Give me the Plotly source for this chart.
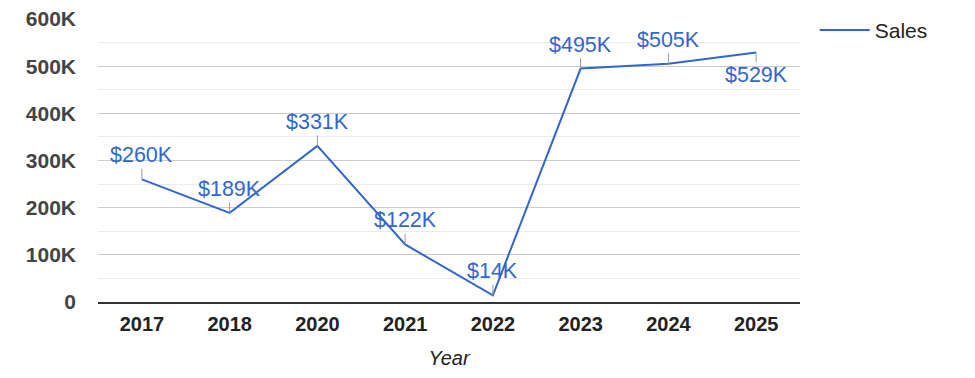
import plotly.graph_objects as go

years = ["2017", "2018", "2020", "2021", "2022", "2023", "2024", "2025"]
sales = [260000, 189000, 331000, 122000, 14000, 495000, 505000, 529000]
labels = ["$260K", "$189K", "$331K", "$122K", "$14K", "$495K", "$505K", "$529K"]
label_below = [False, False, False, False, False, False, False, True]

y_ticks = [0, 100000, 200000, 300000, 400000, 500000, 600000]
y_tick_text = ["0", "100K", "200K", "300K", "400K", "500K", "600K"]

FONT = "Arial, Liberation Sans, sans-serif"
BLUE = "#3366CC"

fig = go.Figure()
fig.add_trace(go.Scatter(x=years, y=sales, mode="lines", name="Sales",
                         line=dict(color=BLUE, width=2)))

for i, (y, t, below) in enumerate(zip(sales, labels, label_below)):
    fig.add_annotation(x=i, y=y, xref="x", yref="y", text=t, showarrow=True,
                       arrowhead=0, arrowwidth=1, arrowcolor="#999999",
                       ax=0, ay=(23 if below else -24),
                       font=dict(family=FONT, size=21.5, color=BLUE))

fig.update_layout(
    width=975, height=378,
    margin=dict(l=98, r=175, t=19, b=76, autoexpand=False),
    plot_bgcolor="white", paper_bgcolor="white",
    font=dict(family=FONT),
    showlegend=True,
    legend=dict(x=1.021, y=1.032, xanchor="left", yanchor="top", itemwidth=50,
                font=dict(family=FONT, size=21, color="#222222"),
                bgcolor="rgba(0,0,0,0)"),
    xaxis=dict(type="category", range=[-0.5, 7.5], showgrid=False,
               showline=True, linecolor="#333333", linewidth=1.5,
               ticks="", ticklabelstandoff=3,
               tickfont=dict(family=FONT, size=20, color="#222222", weight="bold"),
               title=dict(text="<i>Year</i>", font=dict(family=FONT, size=20, color="#222222"), standoff=17)),
    yaxis=dict(range=[0, 600000], tickvals=y_ticks, ticktext=y_tick_text,
               showgrid=True, gridcolor="#cccccc", gridwidth=1, zeroline=False,
               minor=dict(dtick=50000, tick0=0, showgrid=True, gridcolor="#ebebeb", gridwidth=1),
               ticks="", ticklabelstandoff=21,
               tickfont=dict(family=FONT, size=21, color="#444444", weight="bold")),
)

fig.write_html("out.html", config={"displayModeBar": False},
               post_script="document.body.style.margin='0';")
